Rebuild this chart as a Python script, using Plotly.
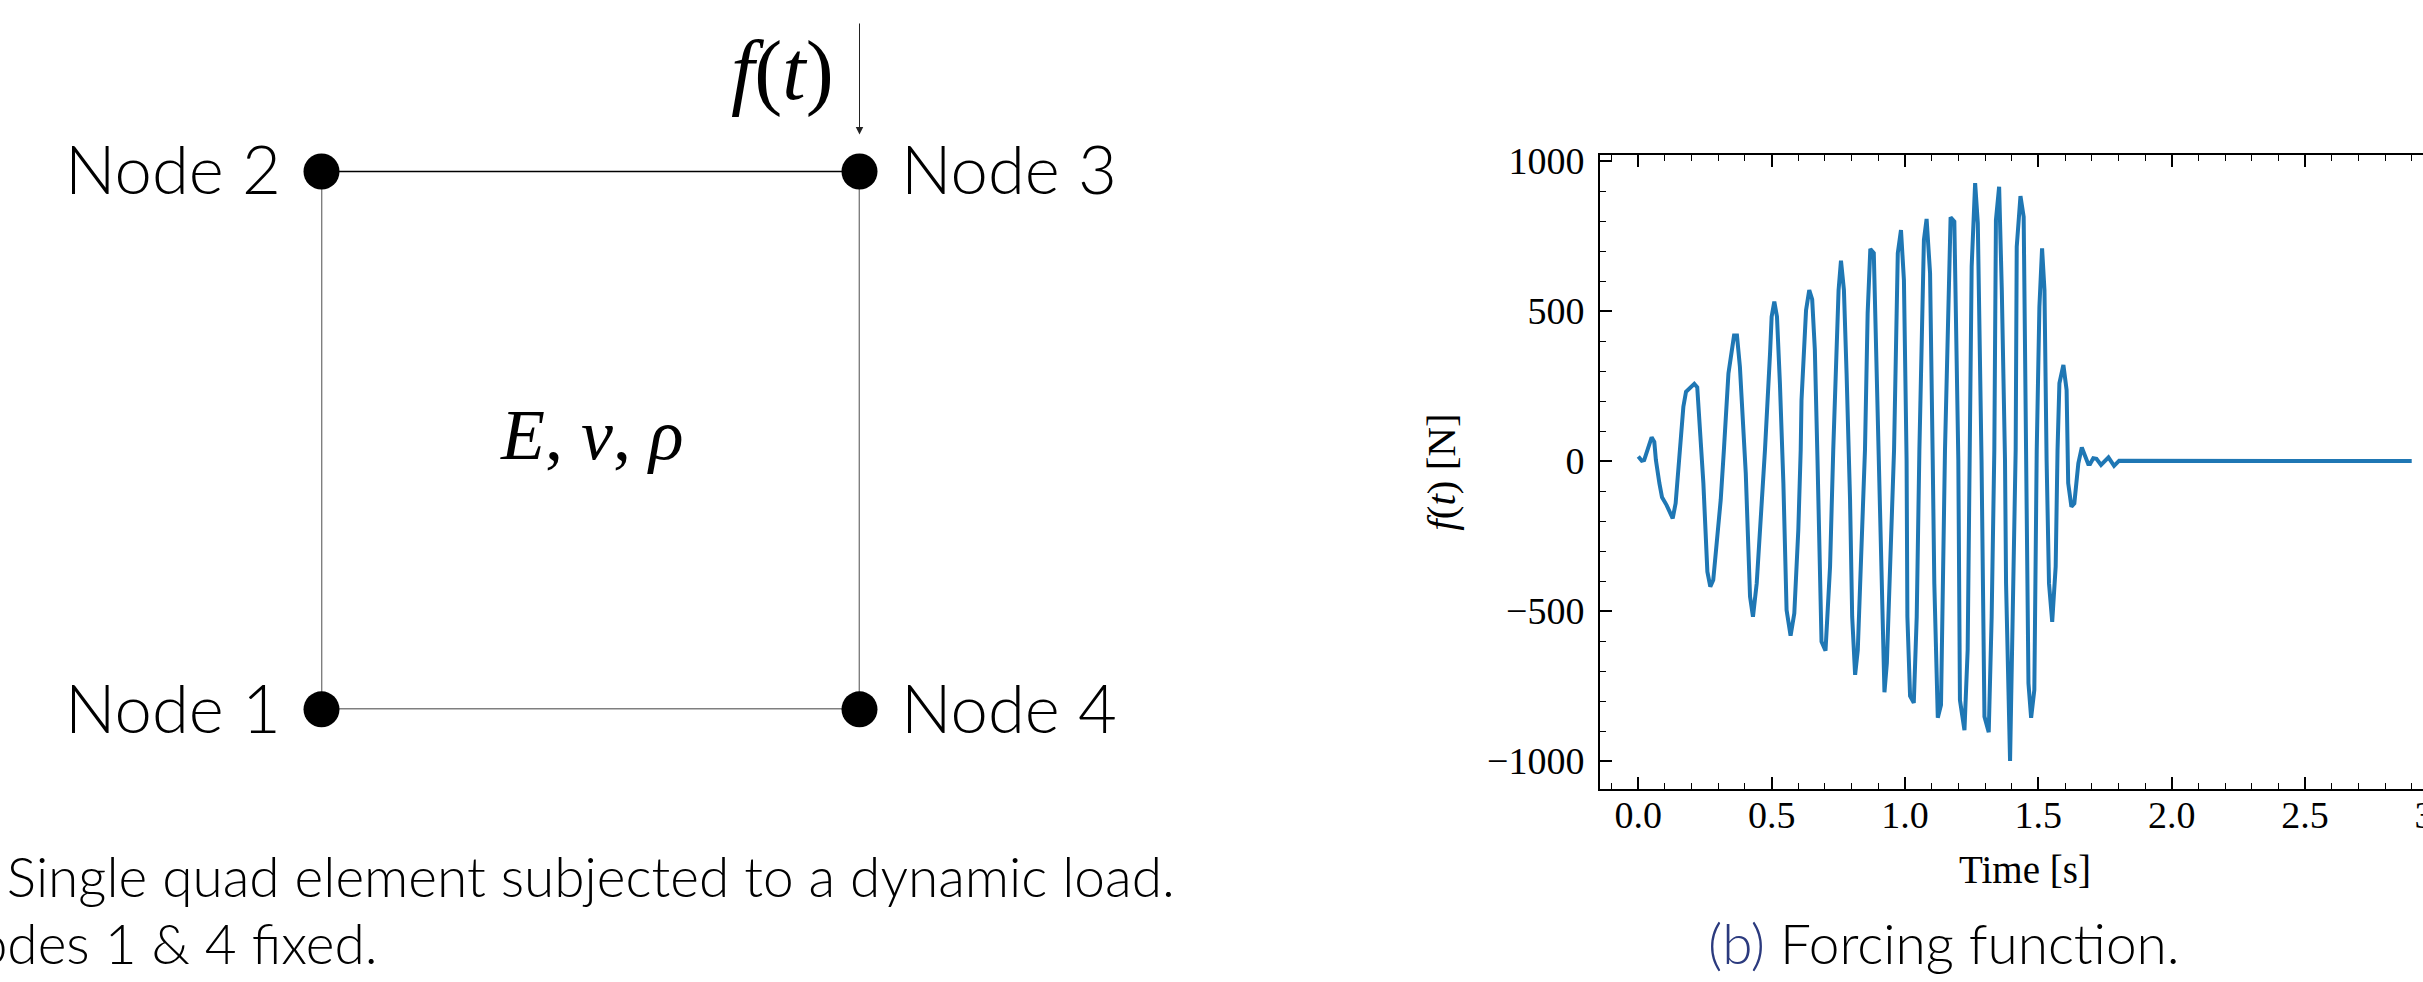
import plotly.graph_objects as go

# --- forcing function ---
time_s = [0.000,0.006,0.013,0.022,0.035,0.050,0.060,0.066,0.079,0.089,0.106,0.129,0.140,0.156,0.169,0.179,0.194,0.210,0.221,0.231,0.240,
          0.244,0.259,0.270,0.281,0.296,0.309,0.321,0.338,0.359,0.370,0.381,0.394,0.401,
          0.403,0.419,0.430,0.444,0.462,0.475,0.494,0.500,0.510,0.520,0.531,0.541,
          0.544,0.556,0.571,0.585,0.600,0.609,0.612,0.629,0.641,0.652,0.662,0.672,
          0.675,0.687,0.702,0.719,0.731,0.751,0.760,0.771,0.781,0.791,
          0.794,0.802,0.813,0.823,0.835,0.850,0.860,0.870,0.883,0.894,0.901,
          0.903,0.913,0.923,0.932,0.947,0.959,0.973,0.985,0.996,1.006,
          1.009,1.019,1.033,1.044,1.054,1.063,1.071,1.081,1.094,1.104,
          1.110,1.123,1.135,1.150,1.163,1.171,1.185,1.194,1.200,
          1.206,1.223,1.235,1.244,1.250,1.263,1.273,1.287,
          1.298,1.314,1.325,1.335,1.341,1.353,1.363,1.375,
          1.379,1.394,1.406,1.415,1.419,1.433,1.445,1.454,
          1.463,1.473,1.485,1.494,1.504,1.514,1.523,1.531,
          1.540,1.552,1.565,1.572,1.579,1.594,1.606,1.612,1.624,1.635,1.650,1.663,1.675,1.687,1.694,
          1.706,1.718,1.735,1.763,1.784,1.803,2.000,2.500,2.900]
force_n = [15,8,1,3,35,79,64,3,-74,-121,-147,-191,-141,37,181,231,242,257,246,126,3,
           -74,-369,-419,-397,-263,-130,37,292,418,418,314,103,3,
           -41,-452,-519,-408,-174,37,359,481,531,481,259,3,
           -74,-497,-582,-508,-230,37,203,503,570,539,370,3,
           -97,-602,-632,-352,37,570,668,570,292,3,
           -130,-519,-713,-630,-352,37,492,707,693,292,3,
           -130,-519,-771,-674,-297,37,693,770,603,3,
           -519,-783,-806,-519,37,403,737,807,626,3,
           -408,-856,-813,37,570,812,798,292,3,
           -797,-897,-630,37,648,926,793,3,
           -852,-904,-519,37,803,914,570,3,
           -408,-1000,-408,37,714,883,814,3,
           -741,-856,-763,37,514,709,570,3,
           -408,-536,-352,37,259,320,237,-74,-152,-141,-8,45,20,-10,-10,
           9,7,-13,12,-16,1,0,0,0]

x_ticks = [0.0,0.5,1.0,1.5,2.0,2.5,3.0]
x_tick_labels = ["0.0","0.5","1.0","1.5","2.0","2.5","3.0"]
y_ticks = [-1000,-500,0,500,1000]
y_tick_labels = ["\u22121000","\u2212500","0","500","1000"]

# --- quad element (unit square) ---
node_names = ["Node 1","Node 2","Node 3","Node 4"]
node_x = [0,0,1,1]
node_y = [0,1,1,0]
edge_x = [0,0,1,1,0]
edge_y = [0,1,1,0,0]

W, H = 2520, 982
def fx(p): return p / W
def fy(p): return 1 - p / H

SERIF = "Liberation Serif"
fig = go.Figure()
fig.add_trace(go.Scatter(x=time_s, y=force_n, mode="lines", xaxis="x", yaxis="y",
                         line=dict(color="#1f77b4", width=4), showlegend=False))
fig.add_trace(go.Scatter(x=edge_x, y=edge_y, mode="lines", xaxis="x2", yaxis="y2",
                         line=dict(color="black", width=1.4), showlegend=False))
fig.add_trace(go.Scatter(x=node_x, y=node_y, mode="markers", xaxis="x2", yaxis="y2", cliponaxis=False,
                         marker=dict(color="black", size=36), text=node_names, showlegend=False))

fig.update_layout(
    template="none",
    width=W, height=H, margin=dict(l=0, r=0, t=0, b=0),
    paper_bgcolor="white", plot_bgcolor="white", showlegend=False,
    font=dict(family=SERIF, color="black"),
    xaxis=dict(domain=[fx(1600), fx(2450)], range=[-0.1436, 3.0436], anchor="y", automargin=False,
               tickmode="array", tickvals=x_ticks, ticktext=x_tick_labels,
               ticks="inside", ticklen=12, tickwidth=1.6, tickcolor="black",
               showline=True, linecolor="black", linewidth=2, mirror="allticks", showgrid=False, zeroline=False,
               minor=dict(dtick=0.1, tick0=0, ticks="inside", ticklen=6, tickwidth=1.4, tickcolor="black", showgrid=False),
               tickfont=dict(family=SERIF, size=38, color="black"), ticklabelstandoff=-9,
               title=dict(text="Time [s]", font=dict(family=SERIF, size=39, color="black"), standoff=21)),
    yaxis=dict(domain=[fy(789), fy(155)], range=[-1093.3, 1020], anchor="x", automargin=False,
               tickmode="array", tickvals=y_ticks, ticktext=y_tick_labels,
               ticks="inside", ticklen=12, tickwidth=1.6, tickcolor="black",
               showline=True, linecolor="black", linewidth=2, mirror="allticks", showgrid=False, zeroline=False,
               minor=dict(dtick=100, tick0=0, ticks="inside", ticklen=6, tickwidth=1.4, tickcolor="black", showgrid=False),
               tickfont=dict(family=SERIF, size=38, color="black"), ticklabelstandoff=6,
               title=dict(text="<i>f</i>(<i>t</i>) [N]", font=dict(family=SERIF, size=41, color="black"), standoff=19)),
    xaxis2=dict(domain=[fx(321.5), fx(859.5)], range=[0, 1], anchor="y2", visible=False, automargin=False),
    yaxis2=dict(domain=[fy(709.3), fy(709.3 - 1.3 * 537.8)], range=[0, 1.3], anchor="x2", visible=False, automargin=False),
)

LATO = dict(family="Lato", size=67, color="black", weight=300)
def note(text, px, py, xanchor="center", font=None):
    fig.add_annotation(text=text, xref="paper", yref="paper", x=fx(px), y=fy(py),
                       xanchor=xanchor, yanchor="middle", showarrow=False, font=font or LATO)

note(node_names[0], 283, 707, "right")
note(node_names[1], 283, 168, "right")
note(node_names[2], 899, 168, "left")
note(node_names[3], 899, 707, "left")

MATH = dict(family=SERIF, size=72, color="black")
note("<i>E</i>, <i>\u03bd</i>, <i>\u03c1</i>", 592, 435, "center", MATH)
note("<i>f</i>(<i>t</i>)", 782, 71, "center", dict(family=SERIF, size=84, color="black"))

fig.add_annotation(x=1, y=1.0686, ax=1, ay=1.278, xref="x2", yref="y2", axref="x2", ayref="y2",
                   text="", showarrow=True, arrowhead=2, arrowsize=1.5, arrowwidth=1, arrowcolor="#222222")

CAP = dict(family="Lato", size=55, color="black", weight=300)
NAVY = "#2b3a7e"
note(f"<span style='color:{NAVY}'>(a)</span> Single quad element subjected to a dynamic load.", 1177, 876, "right", CAP)
note("Nodes 1 &amp; 4 fixed.", 380, 943, "right", CAP)
note(f"<span style='color:{NAVY}'>(b)</span> Forcing function.", 1944, 943, "center", CAP)

fig.write_html("out.html", config=dict(displayModeBar=False),
               post_script="document.body.style.margin='0';document.body.style.overflow='hidden';document.documentElement.style.overflow='hidden';")
